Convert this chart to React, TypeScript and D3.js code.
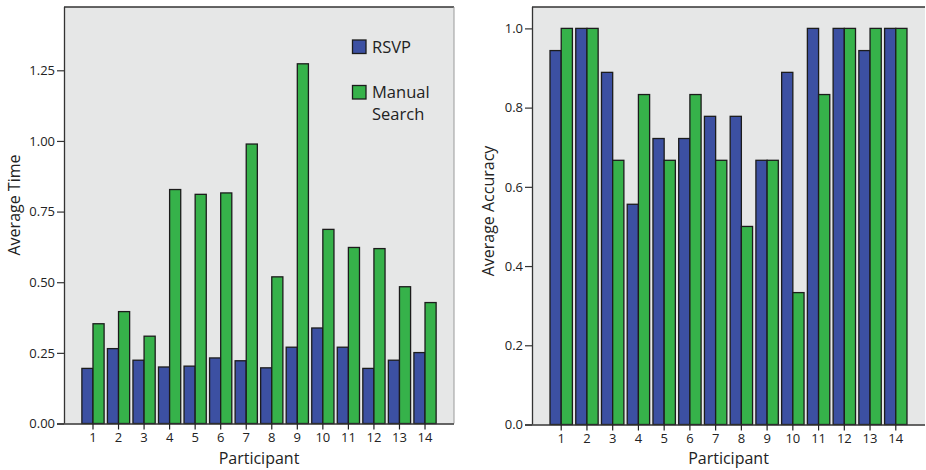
import React, { useRef, useEffect } from "react";
import * as d3 from "d3";

const participants = ["1", "2", "3", "4", "5", "6", "7", "8", "9", "10", "11", "12", "13", "14"];
const rsvpTime = [0.195, 0.265, 0.224, 0.2, 0.203, 0.232, 0.222, 0.197, 0.27, 0.338, 0.27, 0.195, 0.224, 0.251];
const manualTime = [0.353, 0.396, 0.309, 0.828, 0.811, 0.816, 0.989, 0.519, 1.273, 0.687, 0.623, 0.619, 0.484, 0.428];
const rsvpAccuracy = [0.944, 1.0, 0.889, 0.556, 0.722, 0.722, 0.778, 0.778, 0.667, 0.889, 1.0, 1.0, 0.944, 1.0];
const manualAccuracy = [1.0, 1.0, 0.667, 0.833, 0.667, 0.833, 0.667, 0.5, 0.667, 0.333, 0.833, 1.0, 1.0, 1.0];
const timeTicks = [0, 0.25, 0.5, 0.75, 1.0, 1.25];
const accuracyTicks = [0, 0.2, 0.4, 0.6, 0.8, 1.0];
const seriesNames = ["RSVP", "Manual Search"];

const BLUE = "#3c50a2";
const GREEN = "#36b24a";
const PLOT_BG = "#e6e7e7";
const FONT = "'Open Sans', 'Noto Sans', sans-serif";

const drawPanel = (svg, opts) => {
  const { left, right, top, bottom, yMax, ticks, fmt, blue, green, yTitle, rightBorder } = opts;

  const x = d3
    .scaleBand()
    .domain(participants)
    .range([left, right])
    .paddingInner(0.13)
    .paddingOuter(0.7);
  const y = d3.scaleLinear().domain([0, yMax]).range([bottom, top]);

  const g = svg.append("g");

  // plot background
  g.append("rect")
    .attr("x", left)
    .attr("y", top)
    .attr("width", right - left)
    .attr("height", bottom - top)
    .attr("fill", PLOT_BG);

  // frame
  g.append("line")
    .attr("x1", left).attr("x2", right)
    .attr("y1", top).attr("y2", top)
    .attr("stroke", "#333").attr("stroke-width", 1.3);
  if (rightBorder) {
    g.append("line")
      .attr("x1", right).attr("x2", right)
      .attr("y1", top).attr("y2", bottom)
      .attr("stroke", "#9a9a9a").attr("stroke-width", 1);
  }

  // bars
  const bw = x.bandwidth() / 2;
  const groups = g
    .selectAll(".grp")
    .data(participants)
    .enter()
    .append("g")
    .attr("class", "grp");

  const addBar = (vals, color, offset) => {
    groups
      .append("rect")
      .attr("x", (d) => x(d) + offset)
      .attr("y", (d, i) => y(vals[i]))
      .attr("width", bw)
      .attr("height", (d, i) => bottom - y(vals[i]))
      .attr("fill", color)
      .attr("stroke", "#1c1c1c")
      .attr("stroke-width", 1.3);
  };
  addBar(blue, BLUE, 0);
  addBar(green, GREEN, bw);

  // y axis
  const yAxis = g
    .append("g")
    .attr("transform", `translate(${left},0)`)
    .call(d3.axisLeft(y).tickValues(ticks).tickFormat(fmt).tickSize(7).tickPadding(2).tickSizeOuter(0));
  yAxis.select(".domain").attr("stroke", "#333").attr("stroke-width", 1.3)
    .attr("d", `M0.5,${top}V${bottom}`);
  yAxis.selectAll(".tick line").attr("stroke", "#333").attr("stroke-width", 1.2);
  yAxis.selectAll("text")
    .attr("font-family", FONT)
    .attr("font-size", 13)
    .attr("fill", "#222");

  // x axis
  const xAxis = g
    .append("g")
    .attr("transform", `translate(0,${bottom})`)
    .call(d3.axisBottom(x).tickSize(6).tickPadding(3).tickSizeOuter(0));
  xAxis.select(".domain").attr("stroke", "#333").attr("stroke-width", 1.3)
    .attr("d", `M${left - 7},0.5H${right}`);
  xAxis.selectAll(".tick line").attr("stroke", "#222").attr("stroke-width", 1.2);
  xAxis.selectAll("text")
    .attr("font-family", FONT)
    .attr("font-size", 13)
    .attr("fill", "#222");

  // titles
  g.append("text")
    .attr("x", (left + Math.min(right, 926)) / 2)
    .attr("y", 464)
    .attr("text-anchor", "middle")
    .attr("font-family", FONT)
    .attr("font-size", 16)
    .attr("fill", "#222")
    .text("Participant");

  g.append("text")
    .attr("transform", `translate(${opts.titleX},${opts.titleY}) rotate(-90)`)
    .attr("text-anchor", "middle")
    .attr("font-family", FONT)
    .attr("font-size", 16)
    .attr("fill", "#222")
    .text(yTitle);
};

const App = () => {
  const ref = useRef(null);

  useEffect(() => {
    const svg = d3.select(ref.current);
    svg.selectAll("*").remove();

    drawPanel(svg, {
      left: 64, right: 454, top: 7, bottom: 423.5,
      yMax: 1.474, ticks: timeTicks, fmt: d3.format(".2f"),
      blue: rsvpTime, green: manualTime,
      yTitle: "Average Time", titleX: 20, titleY: 205, rightBorder: true,
    });

    drawPanel(svg, {
      left: 532, right: 925, top: 7, bottom: 424.5,
      yMax: 1.054, ticks: accuracyTicks, fmt: d3.format(".1f"),
      blue: rsvpAccuracy, green: manualAccuracy,
      yTitle: "Average Accuracy", titleX: 494, titleY: 211, rightBorder: false,
    });

    // legend
    const legend = svg.append("g");
    const items = [
      { color: BLUE, lines: [seriesNames[0]], y: 40 },
      { color: GREEN, lines: ["Manual", "Search"], y: 85.5 },
    ];
    items.forEach((it) => {
      legend.append("rect")
        .attr("x", 352.5).attr("y", it.y)
        .attr("width", 13.5).attr("height", 13.5)
        .attr("fill", it.color)
        .attr("stroke", "#1c1c1c").attr("stroke-width", 1.3);
      it.lines.forEach((ln, j) => {
        legend.append("text")
          .attr("x", 372)
          .attr("y", it.y + 12.5 + j * 22)
          .attr("font-family", FONT)
          .attr("font-size", 16.5)
          .attr("fill", "#222")
          .text(ln);
      });
    });
  }, []);

  return (
    <svg
      ref={ref}
      width={926}
      height={470}
      style={{ position: "absolute", left: 0, top: 0, background: "#fff" }}
    ></svg>
  );
};

export default App;
